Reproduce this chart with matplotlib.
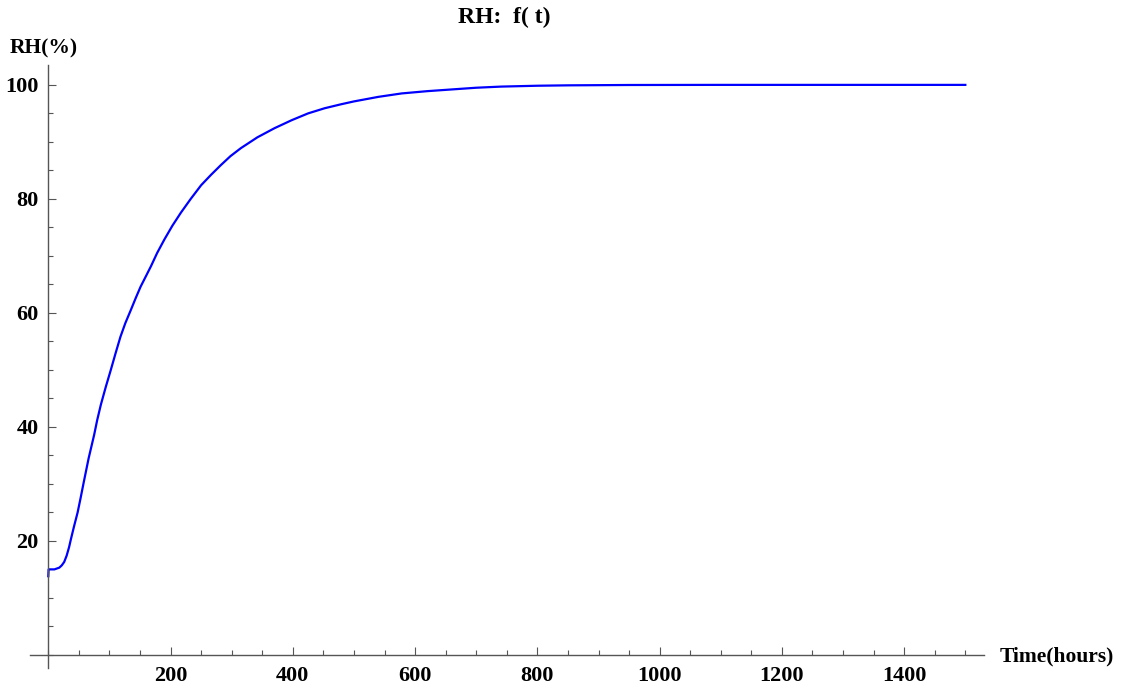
import matplotlib
matplotlib.use("Agg")
import matplotlib.pyplot as plt
from matplotlib.ticker import MultipleLocator

# data
time_h = [0, 0.5, 10, 18, 22, 26, 30, 34, 37, 42, 48, 53, 58, 66, 75, 80, 86, 94,
          102, 110, 118, 126, 135, 143, 151, 160, 168, 178, 190, 203, 217, 233,
          250, 266, 282, 298, 315, 342, 370, 398, 425, 452, 479, 500, 540, 578,
          620, 660, 700, 741, 800, 851, 950, 1100, 1300, 1500]
rh = [13.8, 15.0, 15.0, 15.3, 15.7, 16.3, 17.4, 18.9, 20.3, 22.5, 25.0, 27.6, 30.3, 34.5, 38.6, 41.2, 43.9, 47.0,
      49.9, 52.9, 55.8, 58.2, 60.5, 62.6, 64.6, 66.5, 68.2, 70.5, 72.9, 75.3, 77.6, 80.0,
      82.4, 84.2, 85.9, 87.5, 88.9, 90.8, 92.4, 93.8, 95.0, 95.9, 96.6, 97.1, 97.9, 98.5,
      98.9, 99.2, 99.5, 99.7, 99.85, 99.92, 99.98, 100.0, 100.0, 100.0]

x_ticks = [200, 400, 600, 800, 1000, 1200, 1400]
y_ticks = [20, 40, 60, 80, 100]

plt.rcParams['font.family'] = ['Liberation Serif', 'DejaVu Serif']
plt.rcParams['font.weight'] = 'bold'

fig = plt.figure(figsize=(11.26, 6.9), dpi=100)
ax = fig.add_axes([0.0266, 0.0319, 0.847, 0.874])

ax.plot(time_h, rh, color='#0000ff', lw=1.6, solid_joinstyle='round')

ax.set_xlim(-30, 1530)
ax.set_ylim(-2.3, 103.5)

# mathematica-like axes through the origin
for s in ['top', 'right']:
    ax.spines[s].set_visible(False)
ax.spines['left'].set_position(('data', 0))
ax.spines['bottom'].set_position(('data', 0))
for s in ['left', 'bottom']:
    ax.spines[s].set_color('#555555')
    ax.spines[s].set_linewidth(1.0)

ax.set_xticks(x_ticks)
ax.set_yticks(y_ticks)
ax.xaxis.set_minor_locator(MultipleLocator(50))
ax.yaxis.set_minor_locator(MultipleLocator(5))
ax.tick_params(which='both', direction='in', color='#555555', width=0.8, labelsize=16)
ax.tick_params(which='major', length=6)
ax.tick_params(which='minor', length=3.5)
ax.tick_params(axis='x', which='major', pad=8)
ax.tick_params(axis='y', which='major', pad=7)
for lab in ax.get_xticklabels() + ax.get_yticklabels():
    lab.set_fontweight('bold')

fig.text(0.448, 0.974, "RH:  f( t)", ha='center', va='center', fontsize=17, fontweight='bold')
fig.text(0.009, 0.930, "RH(%)", ha='left', va='center', fontsize=15.5, fontweight='bold')
fig.text(0.888, 0.048, "Time(hours)", ha='left', va='center', fontsize=15.5, fontweight='bold')

fig.savefig("out.png", dpi=100)
